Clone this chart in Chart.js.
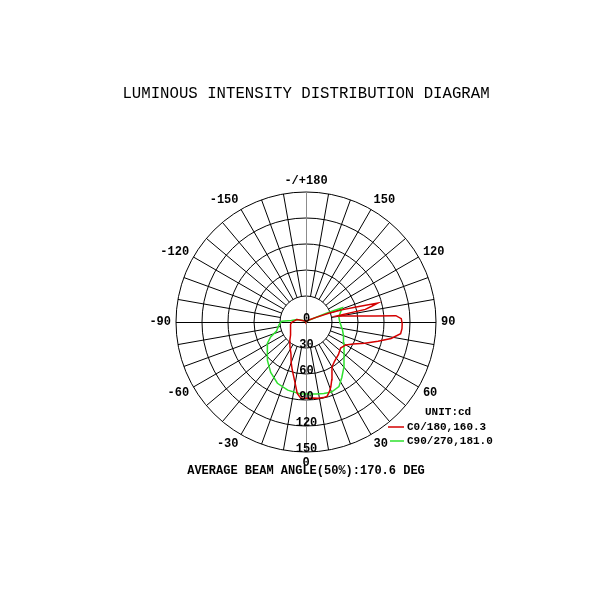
<!DOCTYPE html>
<html>
<head>
<meta charset="utf-8">
<script src="https://cdn.jsdelivr.net/npm/chart.js@4.4.1/dist/chart.umd.min.js"></script>
<style>
  html, body { margin:0; padding:0; background:#fff; }
  #wrap { width:600px; height:600px; }
</style>
</head>
<body>
<div id="wrap"><canvas id="chart" width="600" height="600"></canvas></div>
<script>
// gamma angle in deg (0 = down, 90 = right, +/-180 = up), intensity in cd
const redAngles = [-180, -150, -120, -105, -97, -90, -82, -70, -60, -50, -41, -33, -25, -20, -16, -11, -7, -4, 0, 5, 9, 13, 16, 19, 21, 24, 27, 30, 36, 45, 53, 60, 65, 70, 75, 79, 83, 86, 89, 92, 94, 95, 97, 99, 101, 102, 103.5, 104.8, 106.5, 108.5, 111, 115, 125, 150, 180];
const redValues = [0, 1, 3, 11, 13, 16, 18, 19, 20.5, 23.3, 28.5, 34, 41, 50, 57.6, 69, 83, 88, 88, 88, 89, 89.5, 89, 84, 80, 73, 66, 60, 56, 53, 50, 53, 60, 72, 86, 100, 110, 111, 111, 110, 104, 80, 57, 44, 36, 70, 78, 85.5, 62, 45, 28, 12, 4, 1, 0];

const greenAngles = [-180, -140, -115, -105, -96, -92, -85, -73, -67, -61, -51, -45, -35, -25, -15, -5, 0, 8, 14, 20, 27, 33, 40, 45, 53, 61, 70, 78, 90, 99, 105, 111.5, 113, 116, 130, 180];
const greenValues = [0, 1, 4, 11, 17, 28, 31, 35.6, 44.3, 51, 57.5, 62.7, 71, 78, 81.4, 83, 83, 84, 85, 86, 83.7, 76, 68, 62, 55, 50, 46, 43, 39, 38.3, 41, 45, 28, 10, 2, 0];

const seriesLabels = ['C0/180,160.3', 'C90/270,181.0'];
const seriesColors = ['#d40000', '#2ee02e'];
const ringTicks = [0, 30, 60, 90, 120, 150];
const angleTicks = [180, 150, 120, 90, 60, 30, 0, -30, -60, -90, -120, -150];
const angleTickText = ['-/+180', '150', '120', '90', '60', '30', '0', '-30', '-60', '-90', '-120', '-150'];
const spokeStep = 10;
const rMax = 150;

const MONO = '"Liberation Mono", "DejaVu Sans Mono", monospace';

function toXY(angles, values){
  return angles.map((a, i) => {
    const t = a * Math.PI / 180;
    return { x: values[i] * Math.sin(t), y: -values[i] * Math.cos(t) };
  });
}

function centre(chart){
  const { x, y } = chart.scales;
  const cx = x.getPixelForValue(0), cy = y.getPixelForValue(0);
  const k = x.getPixelForValue(1) - cx; // px per cd
  return { cx, cy, k };
}

// polar grid: rings, 10 deg spokes starting at the first ring, axes through centre
const polarGrid = {
  id: 'polarGrid',
  beforeDatasetsDraw(chart){
    const ctx = chart.ctx;
    const { cx, cy, k } = centre(chart);
    const r0 = ringTicks[1] * k, r1 = rMax * k;
    ctx.save();
    ctx.strokeStyle = '#000'; ctx.lineWidth = 1;
    for(let a = 0; a < 360; a += spokeStep){
      if(a % 90 === 0) continue;
      const t = a * Math.PI / 180;
      ctx.beginPath();
      ctx.moveTo(cx + r0 * Math.sin(t), cy + r0 * Math.cos(t));
      ctx.lineTo(cx + r1 * Math.sin(t), cy + r1 * Math.cos(t));
      ctx.stroke();
    }
    for(const v of ringTicks){
      if(!v) continue;
      ctx.beginPath(); ctx.arc(cx, cy, v * k, 0, Math.PI * 2); ctx.stroke();
    }
    ctx.beginPath(); ctx.moveTo(cx - r1, cy + 0.5); ctx.lineTo(cx + r1, cy + 0.5); ctx.stroke();
    ctx.strokeStyle = '#8c8c8c';
    ctx.beginPath(); ctx.moveTo(cx + 0.5, cy - r1); ctx.lineTo(cx + 0.5, cy + r1); ctx.stroke();
    ctx.restore();
  },
  afterDatasetsDraw(chart){
    const ctx = chart.ctx;
    const { cx, cy, k } = centre(chart);
    ctx.save();
    ctx.fillStyle = '#000';
    ctx.font = 'bold 12px ' + MONO;
    ctx.textBaseline = 'middle';
    // intensity ticks, down the 0 deg axis
    ctx.textAlign = 'center';
    for(const v of ringTicks){ ctx.fillText(String(v), cx + 0.5, cy + v * k - 3.5); }
    // angle ticks
    angleTicks.forEach((a, i) => {
      const t = a * Math.PI / 180;
      const s = Math.sin(t);
      const px = cx + 135 * s, py = cy + 141 * Math.cos(t);
      ctx.textAlign = Math.abs(s) < 0.01 ? 'center' : (s > 0 ? 'left' : 'right');
      ctx.fillText(angleTickText[i], px, py);
    });
    ctx.restore();
  }
};

const texts = {
  id: 'texts',
  afterDraw(chart){
    const ctx = chart.ctx;
    ctx.save();
    ctx.fillStyle = '#000';
    ctx.textBaseline = 'middle';
    ctx.textAlign = 'center';
    ctx.font = '15.7px ' + MONO;
    ctx.fillText('LUMINOUS INTENSITY DISTRIBUTION DIAGRAM', 306, 94);
    ctx.font = 'bold 12px ' + MONO;
    ctx.fillText('AVERAGE BEAM ANGLE(50%):170.6 DEG', 306, 471);

    // legend
    ctx.textAlign = 'left';
    ctx.font = 'bold 11px ' + MONO;
    ctx.fillText('UNIT:cd', 425, 412);
    const rows = [{ y: 427, x0: 388 }, { y: 441, x0: 390 }];
    chart.data.datasets.forEach((ds, i) => {
      const r = rows[i];
      ctx.strokeStyle = ds.borderColor; ctx.lineWidth = 1.5;
      ctx.beginPath(); ctx.moveTo(r.x0, r.y); ctx.lineTo(404, r.y); ctx.stroke();
      ctx.fillText(ds.label, 407, r.y);
    });
    ctx.restore();
  }
};

new Chart(document.getElementById('chart'), {
  type: 'scatter',
  data: {
    datasets: [
      { label: seriesLabels[0], data: toXY(redAngles, redValues), borderColor: seriesColors[0], backgroundColor: seriesColors[0] },
      { label: seriesLabels[1], data: toXY(greenAngles, greenValues), borderColor: seriesColors[1], backgroundColor: seriesColors[1] }
    ]
  },
  options: {
    responsive: false,
    animation: false,
    layout: { padding: { left: 176, right: 164, top: 192, bottom: 148 } },
    showLine: true,
    elements: { point: { radius: 0 }, line: { borderWidth: 1.5, tension: 0 } },
    scales: {
      x: { type: 'linear', min: -rMax, max: rMax, display: false },
      y: { type: 'linear', min: -rMax, max: rMax, display: false }
    },
    plugins: { legend: { display: false }, tooltip: { enabled: false }, title: { display: false } }
  },
  plugins: [polarGrid, texts]
});
</script>
</body>
</html>
